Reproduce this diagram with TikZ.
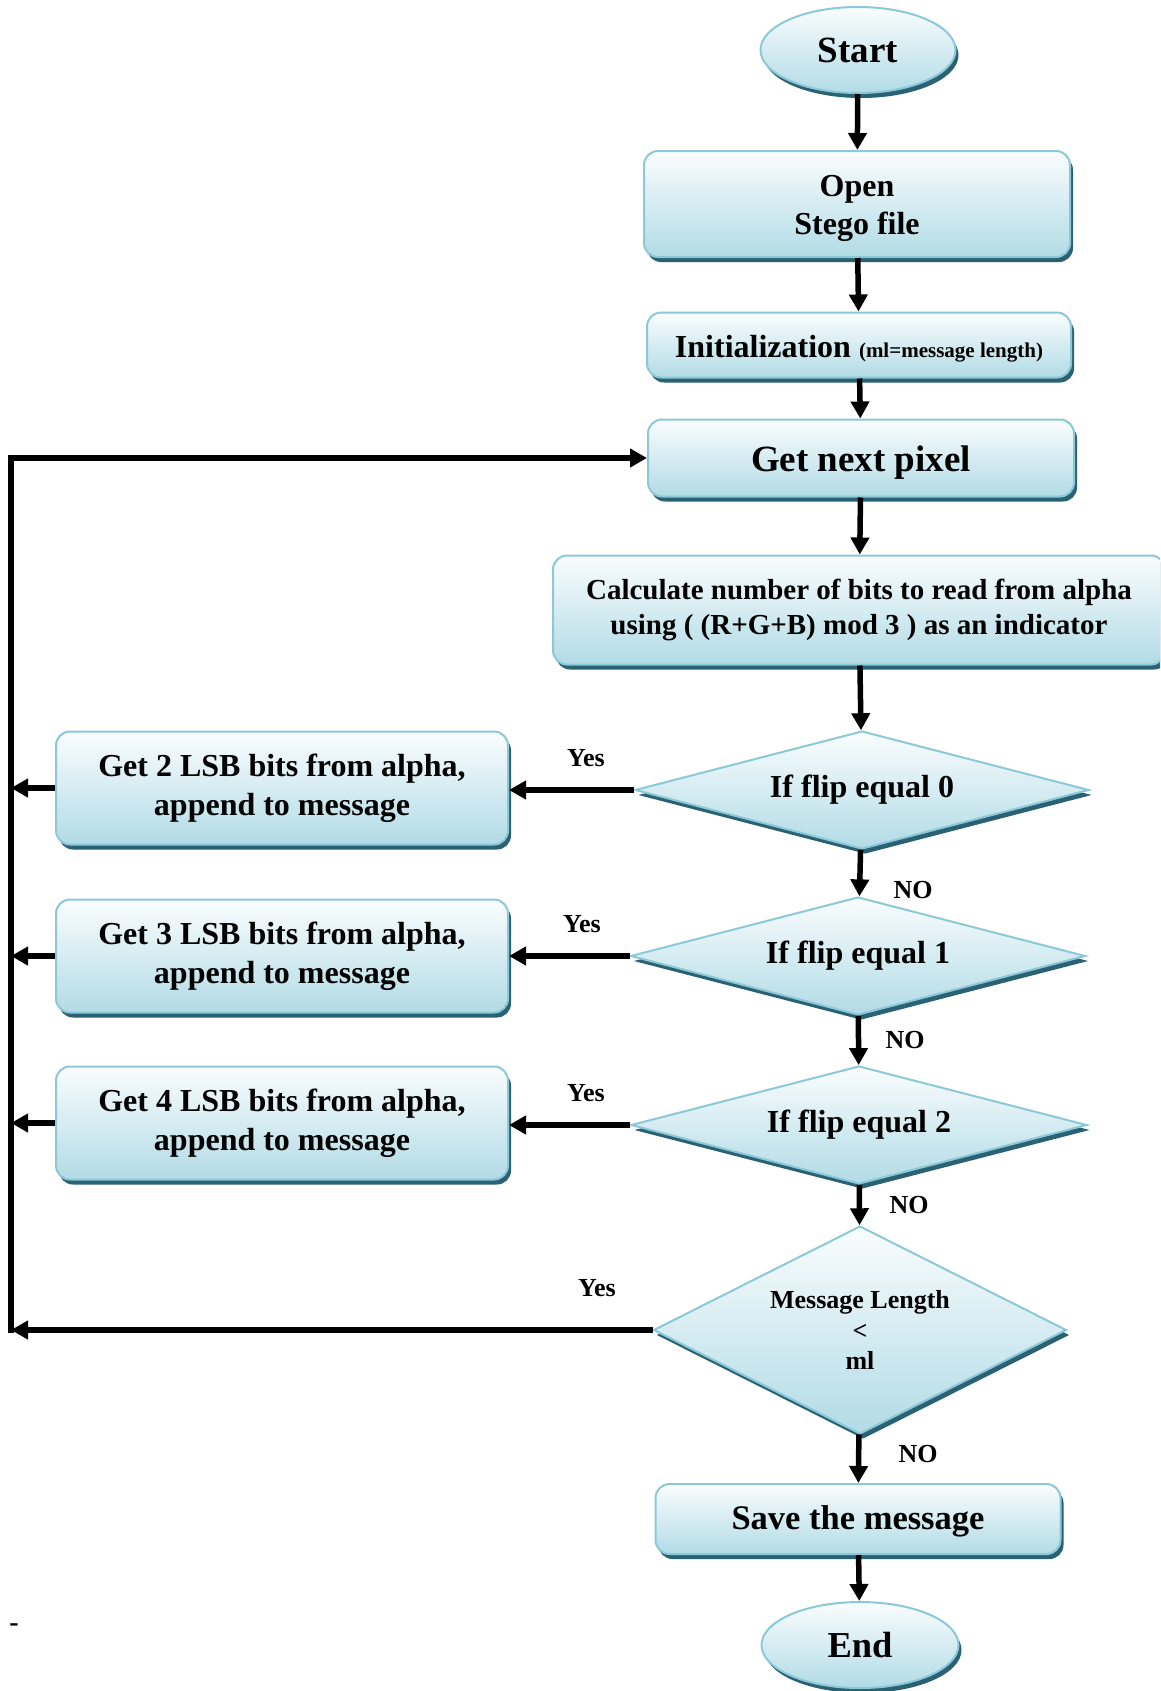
\documentclass[tikz,border=0pt]{standalone}
\usepackage{fontspec}
\setmainfont{Liberation Serif}
\usetikzlibrary{shapes.geometric,shadows,arrows.meta}
\definecolor{bordc}{HTML}{8CC9D8}
\definecolor{shadc}{HTML}{2B6273}
\definecolor{topc}{HTML}{FAFDFE}
\definecolor{botc}{HTML}{B2DBE6}
\tikzset{
  base/.style={draw=bordc, line width=2pt, top color=topc, bottom color=botc,
    general shadow={fill=shadc, shadow xshift=3pt, shadow yshift=-5pt},
    align=center, inner sep=0pt, text=black},
  rbox/.style={base, rectangle, rounded corners=14pt},
  ellbox/.style={base, ellipse},
  dbox/.style={base, diamond},
  arr/.style={line width=5.5pt, line join=miter, -{Triangle[length=17pt,width=18pt]}},
  lbl/.style={font=\bfseries\fontsize{26}{30}\selectfont, inner sep=0pt},
}
\begin{document}
\begin{tikzpicture}[x=1pt,y=-1pt]
\clip (0,0) rectangle (1160,1691);
\fill[white] (0,0) rectangle (1160,1691);

% main column
\node[ellbox, minimum width=195pt, minimum height=86pt, font=\bfseries\fontsize{37}{44}\selectfont] (start) at (858,50) {Start};
\node[rbox, minimum width=426pt, minimum height=106pt, font=\bfseries\fontsize{32}{38}\selectfont] (open) at (857,204) {\rule{0pt}{30pt}Open\\Stego file};
\node[rbox, minimum width=424pt, minimum height=65pt, font=\bfseries\fontsize{32}{38}\selectfont] (init) at (859,345) {\rule{0pt}{30pt}Initialization {\fontsize{21}{25}\selectfont (ml=message length)}};
\node[rbox, minimum width=426pt, minimum height=77pt, font=\bfseries\fontsize{37}{44}\selectfont] (gnp) at (861,458) {\rule{0pt}{34pt}Get next pixel};
\node[rbox, minimum width=612pt, minimum height=109pt, font=\bfseries\fontsize{29}{34.5}\selectfont] (calc) at (859,610) {Calculate number of bits to read from alpha\\using ( (R+G+B) mod 3 ) as an indicator};

\node[dbox, aspect=3.8, minimum width=454pt, minimum height=118pt, font=\bfseries\fontsize{32}{38}\selectfont] (d1) at (862,790) {If flip equal 0};
\node[dbox, aspect=3.8, minimum width=455pt, minimum height=118pt, font=\bfseries\fontsize{32}{38}\selectfont] (d2) at (858,956) {If flip equal 1};
\node[dbox, aspect=3.8, minimum width=456pt, minimum height=118pt, font=\bfseries\fontsize{32}{38}\selectfont] (d3) at (859,1125) {If flip equal 2};
\node[dbox, aspect=1.95, minimum width=413pt, minimum height=208pt, font=\bfseries\fontsize{26}{30.5}\selectfont] (d4) at (860,1330) {Message Length\\<\\ml};

\node[rbox, minimum width=405pt, minimum height=70pt, font=\bfseries\fontsize{34.5}{41}\selectfont] (save) at (858,1519) {\rule{0pt}{28pt}Save the message};
\node[ellbox, minimum width=197pt, minimum height=86pt, font=\bfseries\fontsize{36.5}{44}\selectfont] (end) at (860,1645) {End};

% left boxes
\node[rbox, minimum width=452pt, minimum height=113pt, font=\bfseries\fontsize{32}{39}\selectfont] (a) at (282,788) {Get 2 LSB bits from alpha,\\append to message};
\node[rbox, minimum width=452pt, minimum height=113pt, font=\bfseries\fontsize{32}{39}\selectfont] (b) at (282,956) {Get 3 LSB bits from alpha,\\append to message};
\node[rbox, minimum width=452pt, minimum height=113pt, font=\bfseries\fontsize{32}{39}\selectfont] (c) at (282,1123) {Get 4 LSB bits from alpha,\\append to message};

% loop coordinates
\coordinate (L1) at (11,458);
\coordinate (L2) at (d4.west -| L1);

% vertical flow
\draw[arr] (start) -- (open);
\draw[arr] (open) -- (init);
\draw[arr] (init) -- (gnp);
\draw[arr] (gnp) -- (calc);
\draw[arr] (calc) -- (d1);
\draw[arr] (d1) -- (d2);
\draw[arr] (d2) -- (d3);
\draw[arr] (d3) -- (d4);
\draw[arr] (d4) -- (save);
\draw[arr] (save) -- (end);

% yes branches
\draw[arr] (d1.west) -- (d1.west -| a.east);
\draw[arr] (d2.west) -- (d2.west -| b.east);
\draw[arr] (d3.west) -- (d3.west -| c.east);
\draw[arr] (a.west) -- (a.west -| L1);
\draw[arr] (b.west) -- (b.west -| L1);
\draw[arr] (c.west) -- (c.west -| L1);

% loop back
\draw[arr] (d4.west) -- (L2);
\draw[arr, line cap=rect] (L2) -- (L1) -- (gnp.west);

% labels
\node[lbl] (y1) at (586,758) {Yes};
\node[lbl] (y2) at (582,924) {Yes};
\node[lbl] (y3) at (586,1093) {Yes};
\node[lbl] (y4) at (597,1288) {Yes};
\node[lbl] (n1) at (913,890) {NO};
\node[lbl] (n2) at (905,1040) {NO};
\node[lbl] (n3) at (909,1205) {NO};
\node[lbl] (n4) at (918,1454) {NO};

\node[font=\bfseries\fontsize{28}{32}\selectfont, inner sep=0pt] (dash) at (14,1628) {-};
\end{tikzpicture}
\end{document}
